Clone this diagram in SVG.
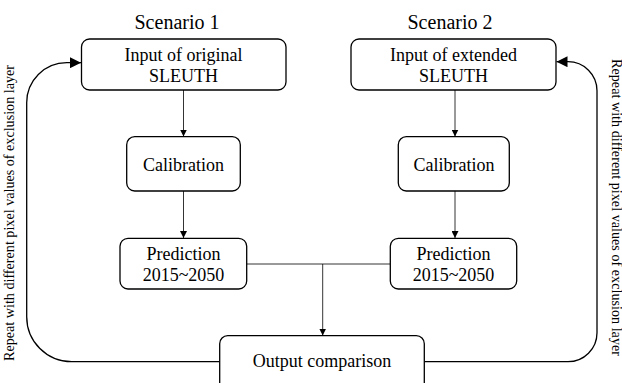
<svg xmlns="http://www.w3.org/2000/svg" width="622" height="383" viewBox="0 0 622 383">
<defs>
<style>
.box{fill:#fff;stroke:#000;stroke-width:1.3}
.t{font-family:'Liberation Serif','DejaVu Serif',serif;fill:#000;text-anchor:middle}
.bt{font-size:18px}
.ln{fill:none;stroke:#000;stroke-width:0.8}
.lp{fill:none;stroke:#000;stroke-width:1.3}
</style>
<marker id="ah" viewBox="0 0 10 10" refX="10" refY="5" markerWidth="7" markerHeight="7" markerUnits="userSpaceOnUse" orient="auto"><path d="M0,0 L10,5 L0,10 z" fill="#000"/></marker>
<marker id="ahb" viewBox="0 0 10 10" refX="10" refY="5" markerWidth="11" markerHeight="11" markerUnits="userSpaceOnUse" orient="auto"><path d="M0,0 L10,5 L0,10 z" fill="#000"/></marker>
</defs>
<text class="t" x="177" y="29" font-size="20">Scenario 1</text>
<text class="t" x="450" y="29" font-size="20">Scenario 2</text>
<g id="connectors">
<line class="ln" x1="183.5" y1="90" x2="183.5" y2="136.5" marker-end="url(#ah)"/>
<line class="ln" x1="183.5" y1="191" x2="183.5" y2="238" marker-end="url(#ah)"/>
<line class="ln" x1="455" y1="90" x2="455" y2="136.5" marker-end="url(#ah)"/>
<line class="ln" x1="455" y1="191" x2="455" y2="238" marker-end="url(#ah)"/>
<polyline class="ln" points="246.5,264 390.5,264"/>
<line class="ln" x1="322.7" y1="264" x2="322.7" y2="335.5" marker-end="url(#ah)"/>
<path class="lp" d="M219.5,361.7 H71.7 A45,45 0 0 1 26.7,316.7 V103 A40,40 0 0 1 66.7,62.7 H81" marker-end="url(#ahb)"/>
<path class="lp" d="M424.5,361.7 H568 A29,29 0 0 0 597,332.7 V90.7 A29,29 0 0 0 568,61.7 H556.5" marker-end="url(#ahb)"/>
</g>
<g id="input1"><rect class="box" x="81.5" y="39" width="204.5" height="51" rx="8"/><text class="t bt" x="183.5" y="61">Input of original</text><text class="t bt" x="183.5" y="82">SLEUTH</text></g>
<g id="calib1"><rect class="box" x="126.7" y="136.7" width="113.6" height="54.3" rx="8"/><text class="t bt" x="183.5" y="171">Calibration</text></g>
<g id="pred1"><rect class="box" x="120" y="238.3" width="126.7" height="50.7" rx="8"/><text class="t bt" x="183.5" y="260">Prediction</text><text class="t bt" x="183.5" y="281">2015~2050</text></g>
<g id="input2"><rect class="box" x="351" y="39" width="205" height="51" rx="8"/><text class="t bt" x="453.5" y="61">Input of extended</text><text class="t bt" x="453.5" y="82">SLEUTH</text></g>
<g id="calib2"><rect class="box" x="398.3" y="136.7" width="111" height="54.3" rx="8"/><text class="t bt" x="454" y="171">Calibration</text></g>
<g id="pred2"><rect class="box" x="390.3" y="238.3" width="126.4" height="50.7" rx="8"/><text class="t bt" x="453.5" y="260">Prediction</text><text class="t bt" x="453.5" y="281">2015~2050</text></g>
<g id="output"><rect class="box" x="219.7" y="335.7" width="204.6" height="60" rx="8"/><text class="t bt" x="322" y="367">Output comparison</text></g>
<text class="t" font-size="14" transform="translate(13.5,213) rotate(-90)" textLength="296" lengthAdjust="spacingAndGlyphs">Repeat with different pixel values of exclusion layer</text>
<text class="t" font-size="14" transform="translate(611.5,207.5) rotate(90)" textLength="297" lengthAdjust="spacingAndGlyphs">Repeat with different pixel values of exclusion layer</text>
</svg>
